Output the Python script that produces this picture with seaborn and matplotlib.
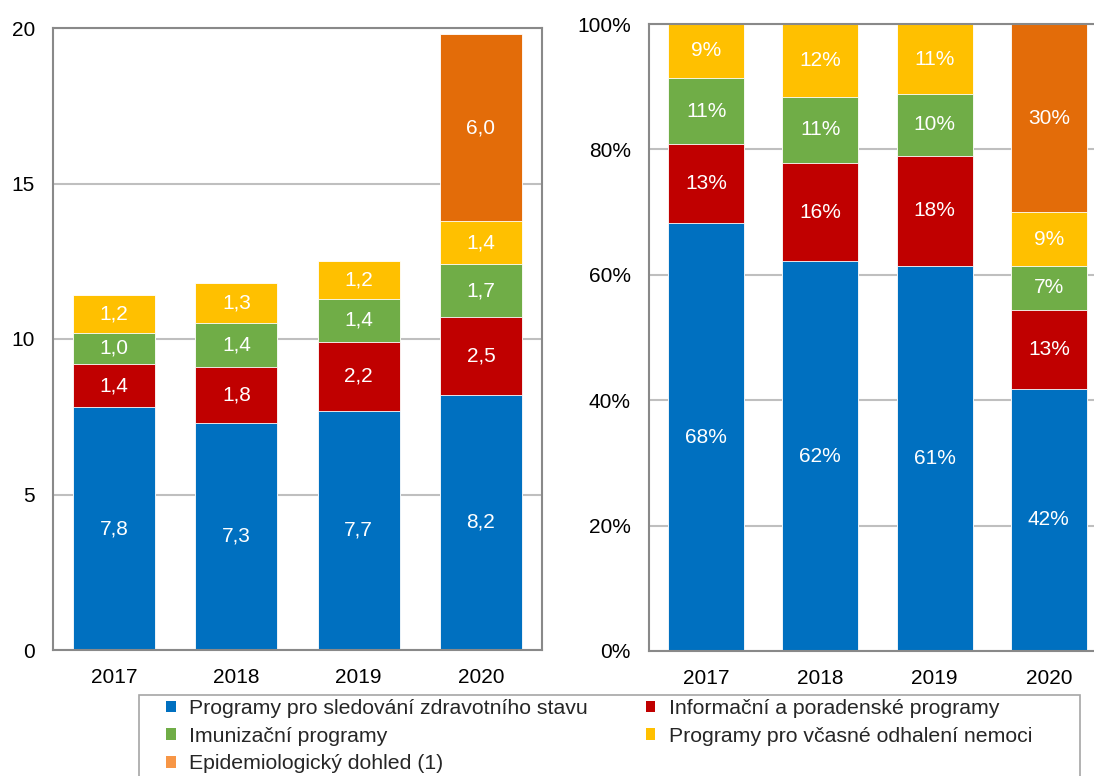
import matplotlib
matplotlib.use("Agg")
import matplotlib.pyplot as plt
import matplotlib.patches as mpatches
import numpy as np
import pandas as pd
import seaborn as sns

# --- data -------------------------------------------------------------
years = ["2017", "2018", "2019", "2020"]

series_names = [
    "Programy pro sledování zdravotního stavu",
    "Informační a poradenské programy",
    "Imunizační programy",
    "Programy pro včasné odhalení nemoci",
    "Epidemiologický dohled (1)",
]

# absolute amounts (left panel)
sledovani = [7.8, 7.3, 7.7, 8.2]
informacni = [1.4, 1.8, 2.2, 2.5]
imunizacni = [1.0, 1.4, 1.4, 1.7]
vcasne = [1.2, 1.3, 1.2, 1.4]
epidem = [0.0, 0.0, 0.0, 6.0]

# shares in percent (right panel)
sledovani_pct = [68.2, 62.2, 61.4, 41.8]
informacni_pct = [12.6, 15.6, 17.6, 12.6]
imunizacni_pct = [10.6, 10.6, 9.8, 7.0]
vcasne_pct = [8.6, 11.6, 11.2, 8.6]
epidem_pct = [0.0, 0.0, 0.0, 30.0]

colors = ["#0070C0", "#C00000", "#70AD47", "#FFC000", "#E36C09"]
legend_colors = ["#0070C0", "#C00000", "#70AD47", "#FFC000", "#F79646"]

FS = 15

# --- style ------------------------------------------------------------
sns.set_theme(style="white")
plt.rcParams["font.family"] = ["Liberation Sans", "DejaVu Sans"]
plt.rcParams["font.size"] = FS

fig = plt.figure(figsize=(10.94, 7.76), dpi=100)


def fig_rect(x0, y0, x1, y1):
    """Pixel box (top-left origin) -> figure fraction rect."""
    return [x0 / 1094, 1 - y1 / 776, (x1 - x0) / 1094, (y1 - y0) / 776]


ax1 = fig.add_axes(fig_rect(53, 28, 542, 650))
ax2 = fig.add_axes(fig_rect(649, 24, 1106, 651))


def stacked(ax, layers, width, fmt):
    df = pd.DataFrame(np.array(layers).T, index=years, columns=series_names)
    cum = df.cumsum(axis=1)
    # draw the running totals from the top layer down so each layer sits on the previous one
    for i in range(len(series_names) - 1, -1, -1):
        name = series_names[i]
        tops = cum[name].where(df[name] > 0)
        sns.barplot(x=years, y=tops.values, order=years, color=colors[i],
                    width=width, saturation=1, edgecolor="white",
                    linewidth=0.6, ax=ax, zorder=2)
    for j, yr in enumerate(years):
        base = 0.0
        for name in series_names:
            v = df.loc[yr, name]
            if v > 0:
                ax.text(j, base + v / 2, fmt(v), ha="center", va="center",
                        color="white", fontsize=FS, zorder=3)
            base += v


stacked(ax1, [sledovani, informacni, imunizacni, vcasne, epidem], 0.67,
        lambda v: f"{v:.1f}".replace(".", ","))
stacked(ax2, [sledovani_pct, informacni_pct, imunizacni_pct, vcasne_pct, epidem_pct],
        0.665, lambda v: f"{v:.0f}%")

ax1.set_ylim(0, 20)
ax1.set_yticks([0, 5, 10, 15, 20])
ax1.set_yticklabels(["0", "5", "10", "15", "20"])
ax2.set_ylim(0, 100)
ax2.set_yticks([0, 20, 40, 60, 80, 100])
ax2.set_yticklabels([f"{t}%" for t in range(0, 101, 20)])

for ax in (ax1, ax2):
    ax.set_xlim(-0.5, 3.5)
    ax.set_xlabel("")
    ax.set_ylabel("")
    ax.yaxis.grid(True, color="#BFBFBF", linewidth=1.5)
    ax.xaxis.grid(False)
    ax.set_axisbelow(True)
    for s in ax.spines.values():
        s.set_visible(True)
        s.set_color("#898989")
        s.set_linewidth(1.5)
    ax.tick_params(axis="both", length=0, labelsize=FS, colors="black")
    ax.tick_params(axis="y", pad=13)
    ax.tick_params(axis="x", pad=13)

# --- legend -------------------------------------------------------------
handles = [mpatches.Patch(facecolor=c, edgecolor="none") for c in legend_colors]
order = [0, 2, 4, 1, 3]
fig.legend([handles[i] for i in order], [series_names[i] for i in order],
           ncol=2, frameon=False, loc="upper left",
           bbox_to_anchor=(166 / 1094, 1 - 699 / 776),
           handlelength=0.45, handleheight=0.45, handletextpad=0.62,
           columnspacing=2.75, labelspacing=0.41, fontsize=15.3,
           borderaxespad=0, borderpad=0)
fig.add_artist(mpatches.Rectangle((139 / 1094, -0.05), (1080 - 139) / 1094,
                                  1 - 695 / 776 + 0.05,
                                  transform=fig.transFigure, fill=False,
                                  edgecolor="#A6A6A6", linewidth=1.2))

fig.savefig("out.png", dpi=100)
